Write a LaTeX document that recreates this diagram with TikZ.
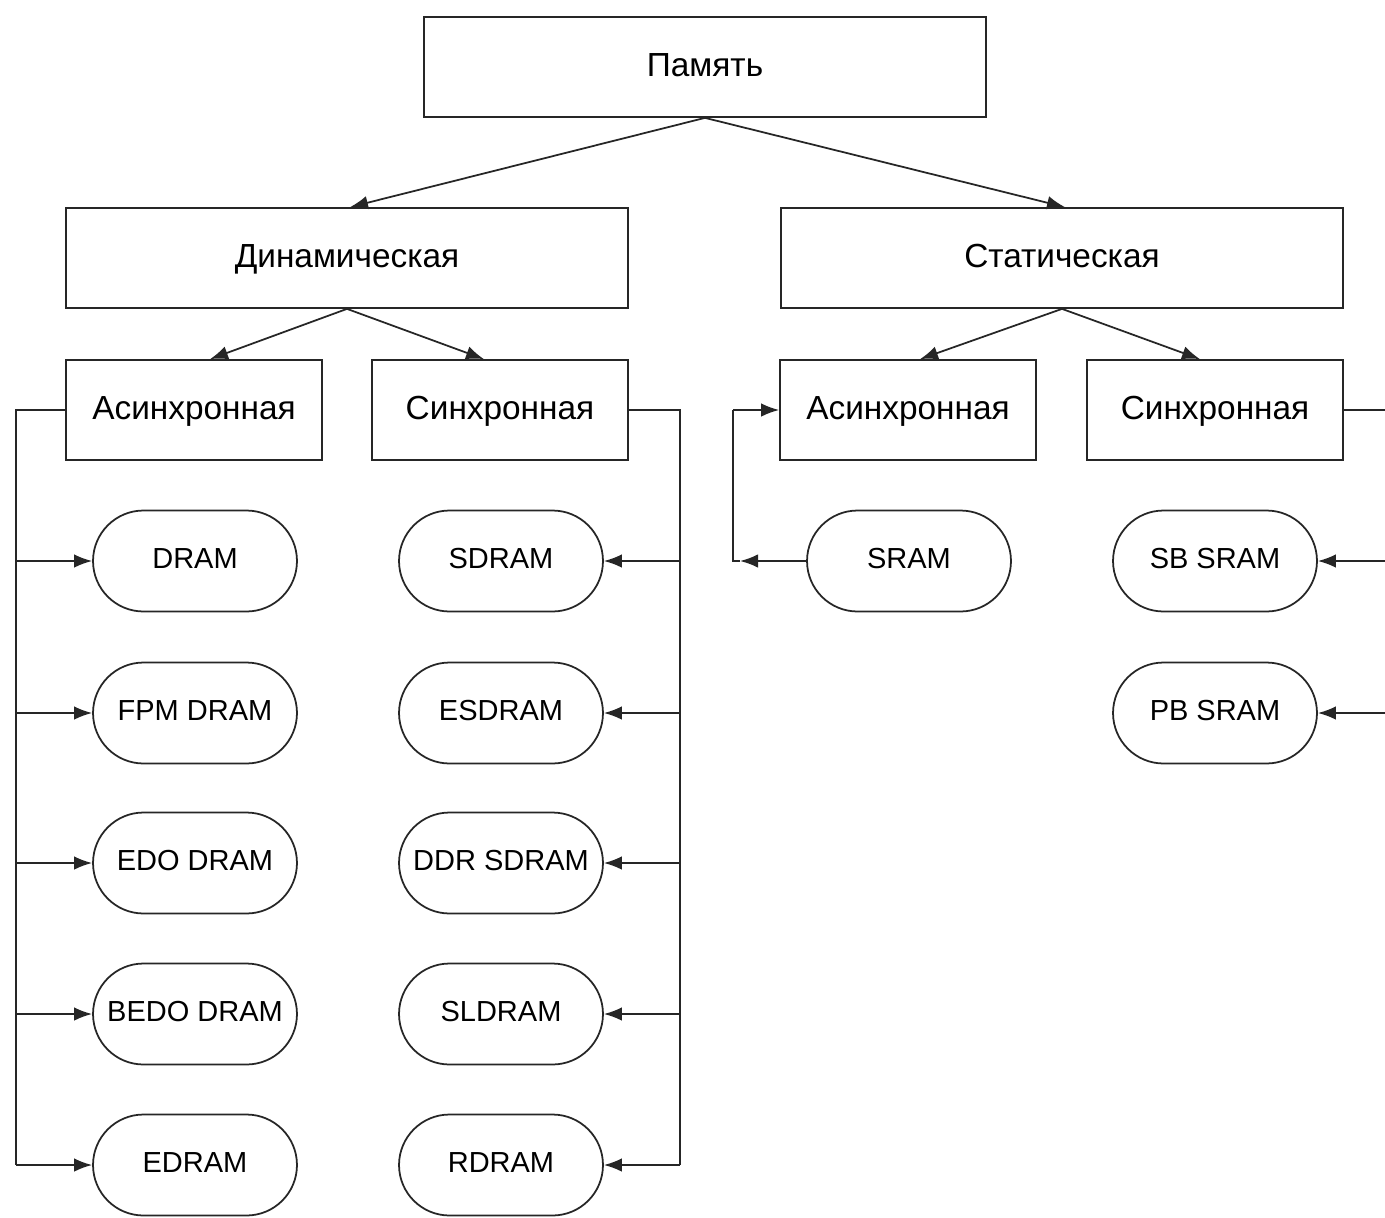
\documentclass[tikz,border=0pt]{standalone}
\usepackage{fontspec}
\setmainfont{Liberation Sans}
\usetikzlibrary{arrows.meta,calc}
\begin{document}
\begin{tikzpicture}[x=0.02cm,y=-0.02cm,
  box/.style={draw=black!85,line width=1pt,fill=white,minimum width=11.24cm,minimum height=2cm,inner sep=0pt,text height=1.95ex,text depth=0pt,font=\fontsize{19}{22}\selectfont},
  sbox/.style={box,minimum width=5.12cm},
  oval/.style={draw=black!85,line width=1pt,fill=white,rounded corners=1.01cm,minimum width=4.08cm,minimum height=2.02cm,inner sep=0pt,text height=1.65ex,text depth=0pt,font=\fontsize{16.5}{19}\selectfont},
  con/.style={draw=black!85,line width=1pt},
  arr/.style={con,-{Latex[length=0.36cm,width=0.27cm]}}
]
\useasboundingbox (0,0) rectangle (1385,1217);
\clip (0,0) rectangle (1385,1217);

\node[box] (mem) at (705,67) {Память};
\node[box] (dyn) at (347,258) {Динамическая};
\node[box] (stat) at (1062,258) {Статическая};

\node[sbox] (ad) at (194,410) {Асинхронная};
\node[sbox] (sd) at (500,410) {Синхронная};
\node[sbox] (as) at (908,410) {Асинхронная};
\node[sbox] (ss) at (1215,410) {Синхронная};

\node[oval] (dram) at (195,561) {DRAM};
\node[oval] (fpm) at (195,713) {FPM DRAM};
\node[oval] (edo) at (195,863) {EDO DRAM};
\node[oval] (bedo) at (195,1014) {BEDO DRAM};
\node[oval] (edram) at (195,1165) {EDRAM};

\node[oval] (sdram) at (501,561) {SDRAM};
\node[oval] (esdram) at (501,713) {ESDRAM};
\node[oval] (ddr) at (501,863) {DDR SDRAM};
\node[oval] (sldram) at (501,1014) {SLDRAM};
\node[oval] (rdram) at (501,1165) {RDRAM};

\node[oval] (sram) at (909,561) {SRAM};
\node[oval] (sbsram) at (1215,561) {SB SRAM};
\node[oval] (pbsram) at (1215,713) {PB SRAM};

% tree arrows
\draw[arr] (mem.south) -- ([xshift=0.06cm]dyn.north);
\draw[arr] (mem.south) -- ([xshift=0.06cm]stat.north);
\draw[arr] (dyn.south) -- ([xshift=0.32cm]ad.north);
\draw[arr] (dyn.south) -- ([xshift=-0.32cm]sd.north);
\draw[arr] (stat.south) -- ([xshift=0.24cm]as.north);
\draw[arr] (stat.south) -- ([xshift=-0.3cm]ss.north);

% left bus (dynamic asynchronous)
\coordinate (bl) at (16,410);
\draw[con] (ad.west) -- (bl) -- (bl |- edram.west);
\foreach \n in {dram,fpm,edo,bedo,edram}
  \draw[arr] (bl |- \n.west) -- (\n.west);

% right bus (dynamic synchronous)
\coordinate (br) at (680,410);
\draw[con] (sd.east) -- (br) -- (br |- rdram.east);
\foreach \n in {sdram,esdram,ddr,sldram,rdram}
  \draw[arr] (br |- \n.east) -- (\n.east);

% static asynchronous
\coordinate (bs) at (733,410);
\coordinate (bsa) at (740,561);
\draw[arr] (sram.west) -- (bsa);
\draw[con] (bsa) -- (bs |- sram.west) -- (bs);
\draw[arr] (bs) -- (as.west);

% static synchronous (bus beyond right edge)
\coordinate (bx) at (1390,410);
\draw[con] (ss.east) -- (bx) -- (bx |- pbsram.east);
\foreach \n in {sbsram,pbsram}
  \draw[arr] (bx |- \n.east) -- (\n.east);
\end{tikzpicture}
\end{document}
